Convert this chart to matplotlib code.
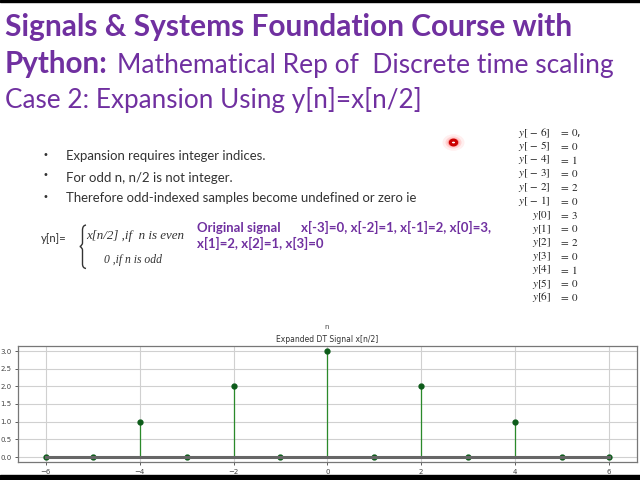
import numpy as np
import matplotlib.pyplot as plt
from matplotlib.patches import Rectangle, Circle, PathPatch
from matplotlib.path import Path

# original signal x[n], n = -3..3
x_idx = [-3, -2, -1, 0, 1, 2, 3]
x_vals = [0, 1, 2, 3, 2, 1, 0]

# expanded signal y[n] = x[n/2], n = -6..6
n_vals = [-6, -5, -4, -3, -2, -1, 0, 1, 2, 3, 4, 5, 6]
y_vals = [0, 0, 1, 0, 2, 0, 3, 0, 2, 0, 1, 0, 0]

bullets = [
    "Expansion requires integer indices.",
    "For odd n, n/2 is not integer.",
    "Therefore odd-indexed samples become undefined or zero ie",
]

W, H = 640, 480
PURPLE = "#7030A0"
plt.rcParams["mathtext.fontset"] = "stix"

fig = plt.figure(figsize=(6.4, 4.8), dpi=100)
fig.patch.set_facecolor("white")
renderer = fig.canvas.get_renderer()


def px(x, y):
    return x / W, 1 - y / H


def fit_text(x0, y, s, x1, **kw):
    # place text at pixel coords and scale the font so it spans x0..x1
    t = fig.text(*px(x0, y), s, **kw)
    w = t.get_window_extent(renderer).width
    t.set_fontsize(t.get_fontsize() * (x1 - x0) / w)
    return t


# slide header
fit_text(5, 36, "Signals & Systems Foundation Course with", 572,
         family="Lato", weight="bold", color=PURPLE, va="baseline", fontsize=20)
fit_text(5, 73, "Python:", 108, family="Lato", weight="bold", color=PURPLE,
         va="baseline", fontsize=20)
fit_text(117, 73, "Mathematical Rep of  Discrete time scaling", 614,
         family="Lato", color=PURPLE, va="baseline", fontsize=20)
fit_text(5, 108, "Case 2: Expansion Using y[n]=x[n/2]", 422,
         family="Lato", color=PURPLE, va="baseline", fontsize=20)

# bullets
ends = [267, 234, 418]
for i, b in enumerate(bullets):
    yb = 160.5 + i * 21
    fig.text(*px(42, yb - 3), "\u2022", fontsize=7, color="#333333", va="baseline")
    fit_text(66, yb, b, ends[i], family="Lato", color="#333333",
             va="baseline", fontsize=9)

# piecewise definition
fit_text(41, 242, "y[n]=", 67, family="Lato", color="#333333", va="baseline", fontsize=9)
brace = [(86, 225), (82.5, 225.5), (82.5, 230), (82.5, 243), (82.5, 245),
         (80, 246.5), (82.5, 248), (82.5, 250), (82.5, 264), (82.5, 268), (86, 268.5)]
codes = [Path.MOVETO, Path.CURVE3, Path.CURVE3, Path.LINETO, Path.CURVE3, Path.CURVE3,
         Path.CURVE3, Path.CURVE3, Path.LINETO, Path.CURVE3, Path.CURVE3]
fig.patches.append(PathPatch(Path([px(*p) for p in brace], codes), fill=False,
                             transform=fig.transFigure, edgecolor="#333333", lw=1.0))
fit_text(86, 239, "x[n/2] ,if  n is even", 184, family="Liberation Serif",
         style="italic", color="#333333", va="baseline", fontsize=12)
fit_text(104, 263, "0 ,if n is odd", 162, family="Liberation Serif",
         style="italic", color="#333333", va="baseline", fontsize=12)

# original signal text
orig = ["x[%d]=%d" % (k, v) for k, v in zip(x_idx, x_vals)]
fit_text(197, 232, "Original signal", 280, family="Lato", weight="bold",
         color=PURPLE, va="baseline", fontsize=9)
fit_text(301, 232, ", ".join(orig[:4]) + ",", 490, family="Lato", weight="bold",
         color=PURPLE, va="baseline", fontsize=9)
fit_text(197, 248, ", ".join(orig[4:]), 323, family="Lato", weight="bold",
         color=PURPLE, va="baseline", fontsize=9)

# list of y values on the right
for i, (k, v) in enumerate(zip(n_vals, y_vals)):
    yy = 132.5 + i * 13.75
    lab = r"$y[\,-\,%d]$" % abs(k) if k < 0 else r"$y[%d]$" % k
    fig.text(*px(551, yy), lab, fontsize=8, ha="right", va="center", color="#222222")
    fig.text(*px(559, yy), r"$=\,%d$" % v + ("," if i == 0 else ""),
             fontsize=8, ha="left", va="center", color="#222222")

# red cursor dot
for r, a in [(11, 0.08), (8, 0.15), (6, 0.25)]:
    fig.patches.append(Circle(px(453.5, 142.5), r / W, transform=fig.transFigure,
                              color="#ff3333", alpha=a, lw=0, zorder=5))
fig.patches.append(Circle(px(453.5, 142.5), 3.2 / W, transform=fig.transFigure,
                          facecolor="white", edgecolor="#cc0000", lw=2.2, zorder=6))

# black bars from the screen capture
fig.patches.append(Rectangle((0, 1 - 2 / H), 1, 2 / H, transform=fig.transFigure,
                             color="black", zorder=10))
fig.patches.append(Rectangle((0, 0), 1, 5 / H, transform=fig.transFigure,
                             color="black", zorder=10))

# stem plot
ax = fig.add_axes([17.7 / W, 1 - 462.3 / H, (637 - 17.7) / W, (462.3 - 345.7) / H])
markerline, stemlines, baseline = ax.stem(n_vals, y_vals)
plt.setp(markerline, color="#0d5c1a", markersize=3.5)
plt.setp(stemlines, color="#2a8a2a", linewidth=0.9)
plt.setp(baseline, color="#666666", linewidth=2.2)
ax.set_title("Expanded DT Signal x[n/2]", fontsize=5.5, pad=3, color="#333333")
ax.grid(True, color="#d0d0d0", linewidth=0.8)
ax.set_axisbelow(True)
ax.tick_params(labelsize=5, length=2.5, width=0.6, colors="#444444", pad=2)
for s in ax.spines.values():
    s.set_color("#777777")
    s.set_linewidth(0.9)
fig.text(*px(327, 327), "n", fontsize=5, ha="center", va="center", color="#444444")

fig.savefig("out.png", dpi=100)
